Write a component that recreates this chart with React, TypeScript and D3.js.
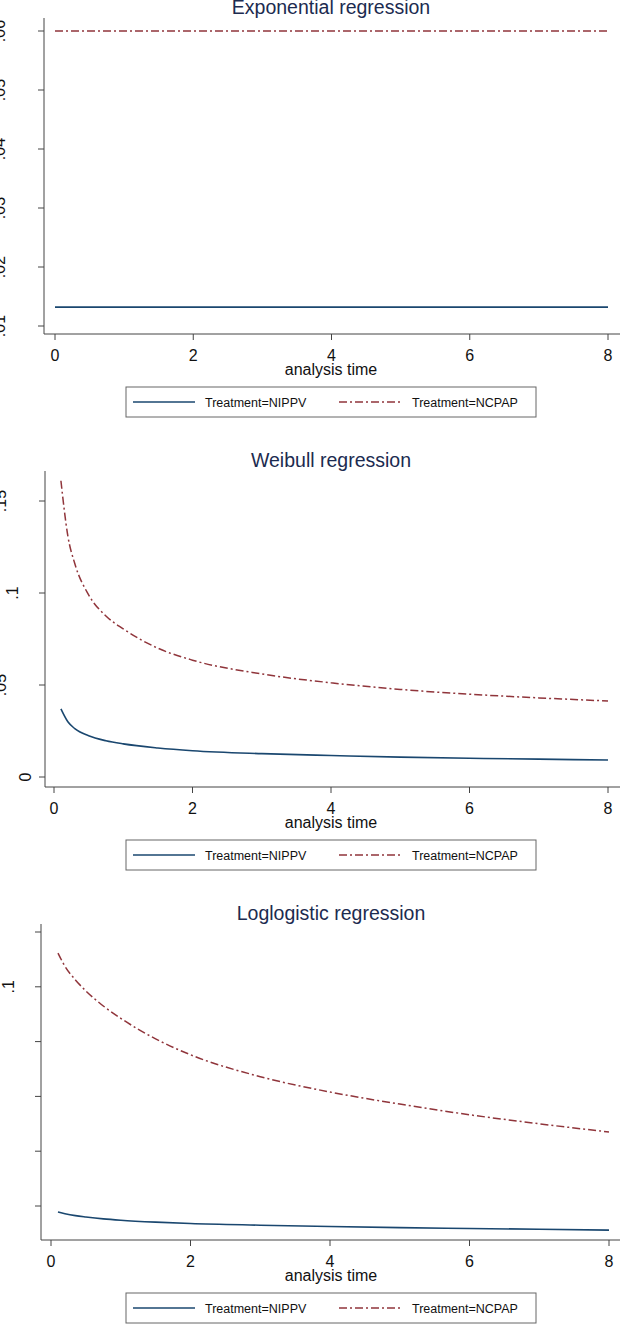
import * as d3 from 'd3';

const W = 620;
const H = 1324;

const timeTicks = [0, 2, 4, 6, 8];
const seriesNames = ['Treatment=NIPPV', 'Treatment=NCPAP'];
const xTitle = 'analysis time';

// Exponential regression (constant hazard)
const expTime = [0, 8];
const expNIPPV = [0.0132, 0.0132];
const expNCPAP = [0.06, 0.06];
const expYTicks = [0.01, 0.02, 0.03, 0.04, 0.05, 0.06];
const expYLabels = ['.01', '.02', '.03', '.04', '.05', '.06'];

// Weibull regression
const weiTime = [0.1, 0.2, 0.3, 0.5, 0.75, 1, 1.5, 2, 3, 4, 5, 6, 7, 8];
const weiNIPPV = [0.037, 0.0300, 0.0263, 0.0224, 0.0197, 0.0180, 0.0158, 0.0143, 0.0127, 0.0117, 0.0108, 0.0102, 0.0097, 0.0092];
const weiNCPAP = [0.161, 0.131, 0.116, 0.099, 0.0875, 0.0805, 0.070, 0.0635, 0.0560, 0.0512, 0.0476, 0.0450, 0.0430, 0.0413];
const weiYTicks = [0, 0.05, 0.1, 0.15];
const weiYLabels = ['0', '.05', '.1', '.15'];

// Loglogistic regression
const llTime = [0.1, 0.2, 0.35, 0.5, 0.75, 1, 1.5, 2, 3, 4, 5, 6, 7, 8];
const llNIPPV = [0.0178, 0.0172, 0.0165, 0.0160, 0.0153, 0.0148, 0.0141, 0.0136, 0.0130, 0.0125, 0.0121, 0.0118, 0.0115, 0.0112];
const llNCPAP = [0.1123, 0.1075, 0.1025, 0.0985, 0.093, 0.0885, 0.081, 0.0752, 0.0672, 0.0616, 0.0572, 0.0533, 0.0500, 0.0470];
const llYTicks = [0.02, 0.04, 0.06, 0.08, 0.1, 0.12];
const llYLabels = ['', '', '', '', '.1', ''];

const FONT = '"Liberation Sans", Arial, sans-serif';
const NAVY = '#1a476f';
const MAROON = '#90353b';
const DASH = '8,3,2,3';

type PanelProps = {
  title: string;
  bottom: number;
  axisX: number;
  xRange: [number, number];
  yDomain: [number, number];
  yOffsets: [number, number];
  yTicks: number[];
  yLabels: string[];
  time: number[];
  nippv: number[];
  ncpap: number[];
};

function Panel(p: PanelProps) {
  const B = p.bottom;
  const top = B - 316;
  const x = d3.scaleLinear().domain([0, 8]).range(p.xRange);
  const y = d3
    .scaleLinear()
    .domain(p.yDomain)
    .range([B - p.yOffsets[0], B - p.yOffsets[1]]);

  const line = d3
    .line<number>()
    .x((_, i) => x(p.time[i]))
    .y((d) => y(d))
    .curve(d3.curveMonotoneX);

  return (
    <g>
      <text x={331} y={B - 320} textAnchor="middle" fontSize={19.5} fill="#1c2b50">
        {p.title}
      </text>

      {/* axes */}
      <line x1={p.axisX} x2={p.axisX} y1={top} y2={B} stroke="#444" strokeWidth={1} />
      <line x1={p.axisX} x2={W} y1={B} y2={B} stroke="#444" strokeWidth={1} />

      {p.yTicks.map((t, i) => {
        const yy = y(t);
        const lab = p.yLabels[i];
        const cx = p.axisX - 7.5 - 12.5 * lab.length;
        return (
          <g key={'y' + i}>
            <line x1={p.axisX - 6} x2={p.axisX} y1={yy} y2={yy} stroke="#444" />
            {lab && (
              <text
                transform={`translate(${cx},${yy}) rotate(-90)`}
                textAnchor="middle"
                dominantBaseline="central"
                fontSize={16}
                fill="#111"
              >
                {lab}
              </text>
            )}
          </g>
        );
      })}

      {timeTicks.map((t) => (
        <g key={'x' + t}>
          <line x1={x(t)} x2={x(t)} y1={B} y2={B + 6} stroke="#444" />
          <text x={x(t)} y={B + 27} textAnchor="middle" fontSize={16} fill="#111">
            {t}
          </text>
        </g>
      ))}
      <text x={331} y={B + 40.5} textAnchor="middle" fontSize={16} fill="#111">
        {xTitle}
      </text>

      {/* curves */}
      <path d={line(p.nippv) ?? ''} fill="none" stroke={NAVY} strokeWidth={1.6} />
      <path
        d={line(p.ncpap) ?? ''}
        fill="none"
        stroke={MAROON}
        strokeWidth={1.5}
        strokeDasharray={DASH}
      />

      {/* legend */}
      <rect x={126} y={B + 53} width={410} height={30} fill="#fff" stroke="#666" strokeWidth={1} />
      <line x1={133} x2={195} y1={B + 68} y2={B + 68} stroke={NAVY} strokeWidth={1.6} />
      <text x={205} y={B + 72.5} fontSize={12.5} fill="#111">
        {seriesNames[0]}
      </text>
      <line
        x1={339}
        x2={402}
        y1={B + 68}
        y2={B + 68}
        stroke={MAROON}
        strokeWidth={1.5}
        strokeDasharray={DASH}
      />
      <text x={412} y={B + 72.5} fontSize={12.5} fill="#111">
        {seriesNames[1]}
      </text>
    </g>
  );
}

export default function App() {
  return (
    <svg
      width={W}
      height={H}
      style={{ position: 'absolute', left: 0, top: 0, background: '#fff' }}
      fontFamily={FONT}
    >
      <rect width={W} height={H} fill="#fff" />
      <Panel
        title="Exponential regression"
        bottom={334}
        axisX={44}
        xRange={[55, 608]}
        yDomain={[0.01, 0.06]}
        yOffsets={[8, 303]}
        yTicks={expYTicks}
        yLabels={expYLabels}
        time={expTime}
        nippv={expNIPPV}
        ncpap={expNCPAP}
      />
      <Panel
        title="Weibull regression"
        bottom={787}
        axisX={45}
        xRange={[54, 608]}
        yDomain={[0, 0.15]}
        yOffsets={[10, 286]}
        yTicks={weiYTicks}
        yLabels={weiYLabels}
        time={weiTime}
        nippv={weiNIPPV}
        ncpap={weiNCPAP}
      />
      <Panel
        title="Loglogistic regression"
        bottom={1240}
        axisX={41}
        xRange={[51, 609]}
        yDomain={[0.02, 0.12]}
        yOffsets={[34, 308]}
        yTicks={llYTicks}
        yLabels={llYLabels}
        time={llTime}
        nippv={llNIPPV}
        ncpap={llNCPAP}
      />
    </svg>
  );
}
